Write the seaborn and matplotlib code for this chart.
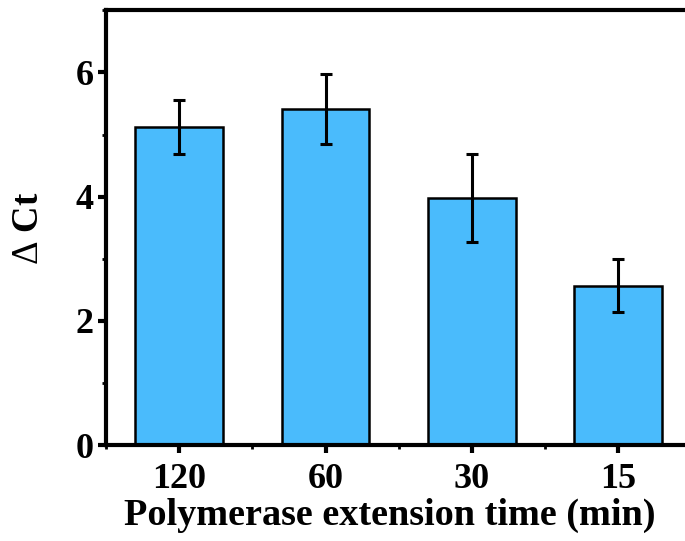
import matplotlib
matplotlib.use("Agg")
import matplotlib.pyplot as plt
import seaborn as sns
import pandas as pd
from matplotlib.ticker import MultipleLocator, FixedLocator

times = ["120", "60", "30", "15"]
delta_ct = [5.12, 5.41, 3.98, 2.57]
errors = [0.43, 0.57, 0.71, 0.43]

sns.set_theme(style="ticks")
plt.rcParams['font.family'] = ['Liberation Serif', 'DejaVu Serif']
plt.rcParams['font.weight'] = 'bold'
plt.rcParams['mathtext.fontset'] = 'custom'
plt.rcParams['mathtext.rm'] = 'Liberation Serif:weight=normal'

data = pd.DataFrame({'time': times, 'dct': delta_ct})

fig = plt.figure(figsize=(6.85, 5.41), dpi=100)
ax = fig.add_axes([0.155, 0.177, 0.854, 0.804])

sns.barplot(x='time', y='dct', data=data, order=times, color='#4ABBFC',
            width=0.6, edgecolor='black', linewidth=1.8, saturation=1,
            errorbar=None, ax=ax)
ax.errorbar(range(len(times)), delta_ct, yerr=errors, fmt='none',
            ecolor='black', elinewidth=2.2, capsize=4, capthick=2.2)

ax.set_xlim(-0.5, 3.5)
ax.set_ylim(0, 7)
ax.yaxis.set_major_locator(MultipleLocator(2))
ax.yaxis.set_minor_locator(MultipleLocator(1))
ax.xaxis.set_minor_locator(FixedLocator([-0.5, 0.5, 1.5, 2.5]))

for s in ax.spines.values():
    s.set_linewidth(3)
    s.set_color('black')

ax.tick_params(axis='both', which='major', direction='out', length=6, width=3,
               labelsize=26, color='black', labelcolor='black', pad=3)
ax.tick_params(axis='x', which='major', pad=7)
ax.tick_params(axis='both', which='minor', direction='out', length=3, width=2,
               color='black')
for lab in ax.get_xticklabels() + ax.get_yticklabels():
    lab.set_fontweight('bold')

ax.set_xlabel('Polymerase extension time (min)', fontsize=27.5, fontweight='bold',
              color='black')
ax.xaxis.set_label_coords(0.485, -0.122)
ax.set_ylabel(r'$\Delta$ Ct', fontsize=26.5, fontweight='bold', color='black')
ax.yaxis.set_label_coords(-0.103, 0.5)

fig.savefig('out.png', dpi=100)
